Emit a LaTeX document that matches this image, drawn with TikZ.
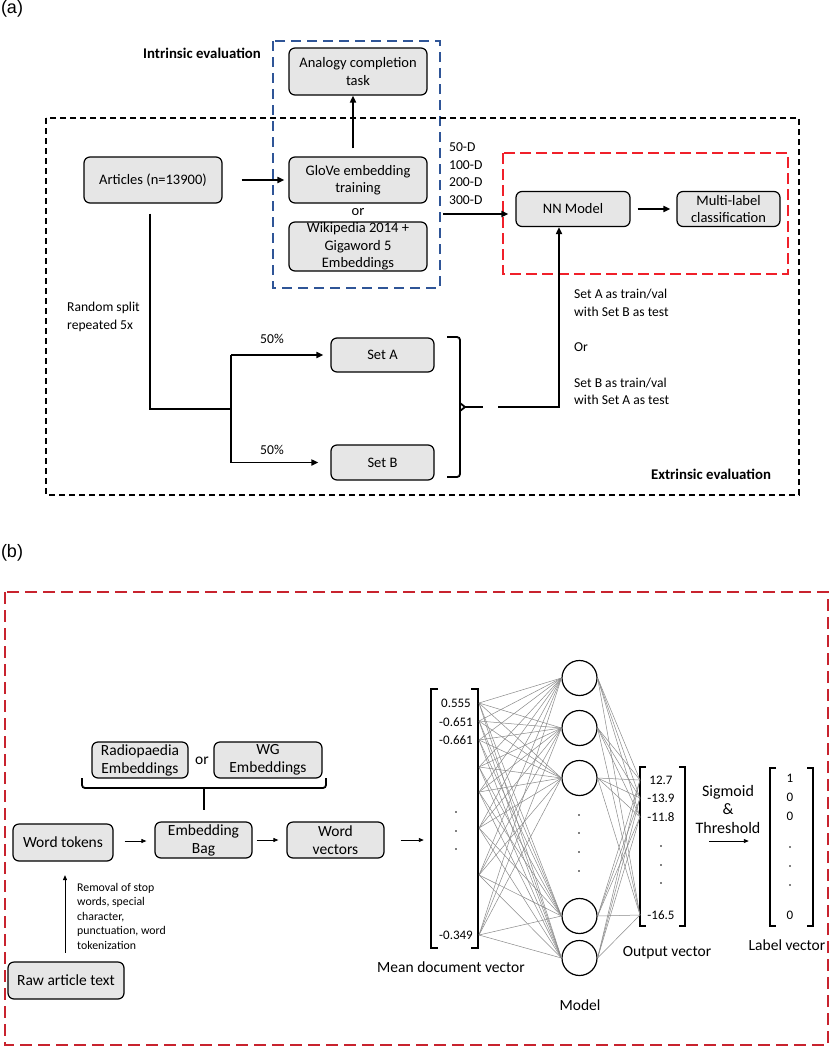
\documentclass[tikz,border=0pt]{standalone}
\usepackage{fontspec}
\setmainfont{Carlito}
\newfontfamily\arialfont{Liberation Sans}
\usetikzlibrary{arrows.meta}
\definecolor{boxgray}{HTML}{E6E6E6}
\definecolor{bluedash}{HTML}{2F5597}
\definecolor{redA}{HTML}{F0202A}
\definecolor{redB}{HTML}{C8232E}
\definecolor{wiregray}{HTML}{8A8A8A}
\newcommand{\myfa}{\fontsize{14.5}{17.5}\selectfont}
\newcommand{\myfs}{\fontsize{13.6}{17.5}\selectfont}
\newcommand{\myfbold}{\fontsize{14.8}{17.5}\selectfont}
\newcommand{\myfb}{\fontsize{15.5}{18}\selectfont}
\newcommand{\myfv}{\fontsize{13}{14}\selectfont}
\begin{document}
\begin{tikzpicture}[x=1pt,y=-1pt,
  box/.style={draw=black,line width=1.2pt,fill=boxgray,rounded corners=6pt,align=center,inner sep=0pt},
  abox/.style={box,font=\myfa},
  bbox/.style={box,font=\myfb},
  lbl/.style={inner sep=0pt,font=\myfs,align=left},
  arrA/.style={line width=1.8pt,-{Triangle[length=7pt,width=6pt]}},
  arrB/.style={line width=0.9pt,-{Triangle[length=5pt,width=4pt]}},
  dframe/.style={line width=1.3pt},
  neuron/.style={circle,draw=black,line width=1.2pt,minimum size=35pt,inner sep=0pt},
  wireln/.style={draw=wiregray,line width=0.5pt},
  vbrack/.style={line width=1.8pt},
  val/.style={inner sep=0pt,font=\myfv},
  dotm/.style={circle,fill=black,inner sep=0pt,minimum size=1.8pt},
  cap14/.style={inner sep=0pt,font=\fontsize{15.5}{18.5}\selectfont,align=center}
]
\useasboundingbox (0,0) rectangle (834,1050);
\fill[white] (0,0) rectangle (834,1050);

% ---------------- (a) ----------------
\node[font=\arialfont\fontsize{18}{20}\selectfont, inner sep=0pt] (labA) at (12,9) {(a)};
\node[font=\bfseries\myfbold, inner sep=0pt] (intr) at (202,53) {Intrinsic evaluation};

\draw[dframe, bluedash, dash pattern=on 10pt off 6pt] (273,41) rectangle (440,288);
\draw[dframe, black, dash pattern=on 6pt off 4pt] (46,118) rectangle (799,495);
\draw[redA, line width=1.5pt, dash pattern=on 11pt off 5pt] (503,153) rectangle (788,274);

\node[abox, minimum width=138, minimum height=47] (analogy) at (358,71.5) {Analogy completion\\task};
\node[abox, minimum width=138, minimum height=46] (articles) at (153,180) {Articles (n=13900)};
\node[abox, minimum width=138, minimum height=46] (glove) at (358,180) {GloVe embedding\\training};
\node[font=\myfa, inner sep=0pt] (or1) at (358,212) {or};
\node[abox, minimum width=138, minimum height=49] (wiki) at (358,246.5) {Wikipedia 2014 +\\Gigaword 5\\Embeddings};
\node[abox, minimum width=114, minimum height=35] (nn) at (573,209) {NN Model};
\node[abox, minimum width=103, minimum height=35] (multi) at (728.5,209) {Multi-label\\classification};
\node[abox, minimum width=103, minimum height=34] (seta) at (382.5,355) {Set A};
\node[abox, minimum width=103, minimum height=35] (setb) at (382.5,462.5) {Set B};

\node[lbl, anchor=west] (dims) at (449,173.5) {50-D\\100-D\\200-D\\300-D};
\node[lbl, anchor=west] (rsplit) at (67,317) {Random split\\repeated 5x};
\node[lbl] (p1) at (272,339) {50\%};
\node[lbl] (p2) at (272,450) {50\%};
\node[lbl, anchor=west] (opt1) at (574,303) {Set A as train/val\\with Set B as test};
\node[lbl, anchor=west] (optor) at (574,347) {Or};
\node[lbl, anchor=west] (opt2) at (574,391.5) {Set B as train/val\\with Set A as test};
\node[font=\bfseries\myfbold, inner sep=0pt] (extr) at (711,474) {Extrinsic evaluation};

\draw[arrA, shorten <=19pt, shorten >=4pt] (articles) -- (glove);
\draw[arrA, shorten <=8pt] ([xshift=-5pt]glove.north) -- ([xshift=-5pt]analogy.south);
\coordinate (dimsrc) at (443,214);
\draw[arrA, shorten >=7pt] (dimsrc) -- (dimsrc -| nn.west);
\draw[arrA, shorten <=7pt, shorten >=6pt] (nn) -- (multi);

\coordinate (split) at (231,409);
\draw[line width=1.8pt, shorten <=10pt] ([xshift=-3pt]articles.south) |- (split);
\draw[line width=1.8pt] (split |- seta) -- (split |- setb);
\draw[arrA, shorten >=7pt] (split |- seta) -- (seta.west);
\draw[arrA, shorten >=12pt] (split |- setb) -- (setb.west);

\draw[line width=1.8pt, rounded corners=3pt] (447,337) -- (460,337) -- (460,477) -- (447,477);
\draw[line width=1.8pt] (460,403) -- (465,407) -- (460,411);
\draw[line width=1.8pt] (465,407) -- (483,407);
\coordinate (merge) at (498,407);
\draw[arrA] (merge) -| ([xshift=-14pt]nn.south);

% ---------------- (b) ----------------
\node[font=\arialfont\fontsize{18}{20}\selectfont, inner sep=0pt] (labB) at (12,553) {(b)};
\draw[line width=1.5pt, redB, dash pattern=on 12pt off 6pt] (5,592) rectangle (828,1045);

\node[bbox, minimum width=96, minimum height=36] (radio) at (140,760) {Radiopaedia\\Embeddings};
\node[font=\myfb, inner sep=0pt] (or2) at (202,761) {or};
\node[bbox, minimum width=108, minimum height=36] (wg) at (268,760) {WG\\Embeddings};
\draw[line width=1.8pt, rounded corners=3pt] (82,778) -- (82,788) -- (326,788) -- (326,778);

\node[bbox, minimum width=100, minimum height=37] (wt) at (63,842.5) {Word tokens};
\node[bbox, minimum width=97, minimum height=36] (eb) at (203.5,840) {Embedding\\Bag};
\node[bbox, minimum width=97, minimum height=36] (wv) at (335.5,840) {Word\\vectors};
\node[bbox, minimum width=116, minimum height=37] (raw) at (66,980.5) {Raw article text};
\node[font=\fontsize{11.8}{14.5}\selectfont, inner sep=0pt, align=left, anchor=west] (removal) at (77,916) {Removal of stop\\words, special\\character,\\punctuation, word\\tokenization};

\coordinate (bracemid) at (204,788);
\draw[line width=1.8pt] (bracemid) -- (bracemid |- 0,810);

% vectors
\node[minimum width=48, minimum height=259, inner sep=0pt] (mean) at (455,818.5) {};
\node[minimum width=45, minimum height=159, inner sep=0pt] (outv) at (662.5,846.5) {};
\node[minimum width=43, minimum height=158, inner sep=0pt] (labv) at (791.5,847) {};

\draw[arrB, shorten <=11pt, shorten >=8pt] ([yshift=1.5pt]wt.east) -- ([yshift=1.5pt]wt.east -| eb.west);
\draw[arrB, shorten <=4pt, shorten >=8pt] (eb) -- (wv);
\draw[arrB, shorten <=16pt, shorten >=7pt] (wv.east) -- (wv.east -| mean.west);
\draw[arrB, shorten <=8.5pt, shorten >=13.5pt] ([xshift=-1pt]raw.north) -- ([xshift=-1pt]raw.north |- wt.south);

\draw[vbrack] (438,689) -- (431,689) -- (431,948) -- (438,948);
\draw[vbrack] (471,689) -- (478,689) -- (478,948) -- (471,948);
\draw[vbrack] (646,767) -- (640,767) -- (640,926) -- (646,926);
\draw[vbrack] (679,767) -- (685,767) -- (685,926) -- (679,926);
\draw[vbrack] (776,768) -- (770,768) -- (770,926) -- (776,926);
\draw[vbrack] (807,768) -- (813,768) -- (813,926) -- (807,926);

\node[val] (m1) at (456,703) {0.555};
\node[val] (m2) at (456,722) {-0.651};
\node[val] (m3) at (456,740) {-0.661};
\node[dotm] (md1) at (456,812) {};
\node[dotm] (md2) at (456,831) {};
\node[dotm] (md3) at (456,849) {};
\node[val] (m4) at (456,935) {-0.349};

\node[neuron] (n1) at (579.5,678) {};
\node[neuron] (n2) at (579.5,728) {};
\node[neuron] (n3) at (579.5,778) {};
\node[neuron] (n4) at (579.5,916) {};
\node[neuron] (n5) at (579.5,958) {};
\node[dotm] (nd1) at (579,815) {};
\node[dotm] (nd2) at (579,833) {};
\node[dotm] (nd3) at (579,852) {};
\node[dotm] (nd4) at (579,871) {};

\foreach \s in {703,721,740,767,792,828,875,935}
  \foreach \n in {n1,n2,n3,n4,n5}
    \draw[wireln] (479,\s) -- (\n.west);
\foreach \n in {n1,n2,n3,n4,n5}
  \foreach \t in {780,798,817,915}
    \draw[wireln] (\n.east) -- (640,\t);

\node[val] (o1) at (661,780) {12.7};
\node[val] (o2) at (661,798) {-13.9};
\node[val] (o3) at (661,817) {-11.8};
\node[dotm] (od1) at (661,846) {};
\node[dotm] (od2) at (661,865) {};
\node[dotm] (od3) at (661,883) {};
\node[val] (o4) at (661,915) {-16.5};

\node[val] (l1) at (790,778) {1};
\node[val] (l2) at (790,797) {0};
\node[val] (l3) at (790,816) {0};
\node[dotm] (ld1) at (790,847) {};
\node[dotm] (ld2) at (790,866) {};
\node[dotm] (ld3) at (790,885) {};
\node[val] (l4) at (790,915) {0};

\node[cap14, font=\fontsize{16}{18.5}\selectfont] (sig) at (728,809) {Sigmoid\\\&\\Threshold};
\draw[arrB, shorten <=24pt, shorten >=21pt] ([yshift=5.5pt]outv.east) -- ([yshift=5.5pt]outv.east -| labv.west);

\node[cap14] (meanlbl) at (451,967) {Mean document vector};
\node[cap14] (outlbl) at (667,953) {Output vector};
\node[cap14] (lablbl) at (787,945) {Label vector};
\node[cap14] (modellbl) at (580,1005) {Model};
\end{tikzpicture}
\end{document}
